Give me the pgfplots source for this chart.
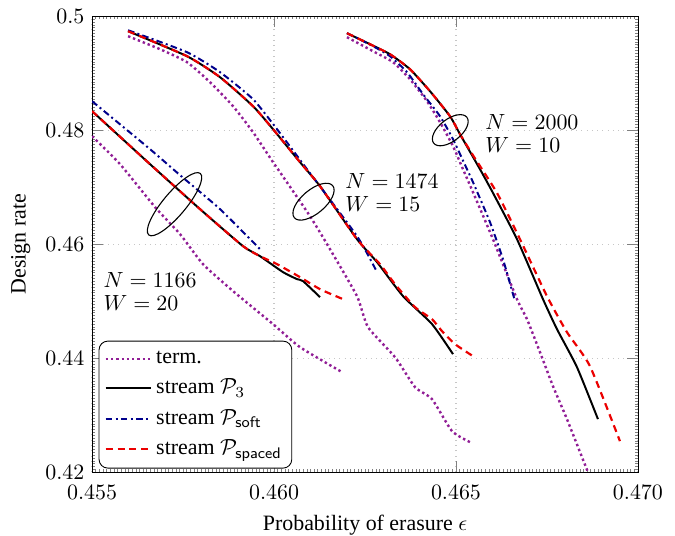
\documentclass[border=0pt]{standalone}
\usepackage{fontspec}
\setmainfont{Liberation Serif}
\usepackage{pgfplots}
\pgfplotsset{compat=1.18}
\definecolor{termc}{RGB}{145,30,150}
\definecolor{softc}{RGB}{0,0,140}
\definecolor{spacedc}{RGB}{235,0,0}
\tikzset{termstyle/.style={termc, line width=1.1pt, dash pattern=on 1.1pt off 1.3pt},
  p3style/.style={black, line width=0.9pt},
  softstyle/.style={softc, line width=0.9pt, dash pattern=on 3pt off 1.5pt on 0.9pt off 1.5pt},
  spacedstyle/.style={spacedc, line width=1pt, dash pattern=on 3.2pt off 2.2pt}}
\begin{document}
\begin{tikzpicture}
\begin{axis}[
  scale only axis, width=249pt, height=208pt,
  xmin=0.455, xmax=0.470, ymin=0.42, ymax=0.5,
  xtick={0.455,0.46,0.465,0.47}, ytick={0.42,0.44,0.46,0.48,0.5},
  scaled ticks=false,
  xticklabel style={/pgf/number format/.cd, fixed, fixed zerofill, precision=3},
  xticklabel shift=2.5pt,
  yticklabel style={/pgf/number format/.cd, fixed, precision=2},
  minor x tick num=49, minor y tick num=39,
  minor tick length=1.3pt, major tick length=5pt,
  grid=major, grid style={dotted, gray!45, line width=0.6pt},
  xlabel={Probability of erasure $\epsilon$}, ylabel={Design rate},
  legend style={at={(0.012,0.008)}, anchor=south west, rounded corners=4pt, cells={anchor=west}, inner sep=2.5pt, row sep=1.6pt},
  legend image code/.code={\draw[#1] (0cm,0cm) -- (0.72cm,0cm);},
  every axis plot/.append style={smooth, tension=0.35},
]
% group N=1166
\addplot[termstyle] coordinates {(0.455,0.47895) (0.455769,0.47404) (0.456731,0.46650) (0.457418,0.46176) (0.458049,0.45650) (0.458874,0.45177) (0.459972,0.44598) (0.460714,0.44194) (0.461868,0.43756)};
\addlegendentry{term.}
\addplot[p3style] coordinates {(0.455,0.48334) (0.456593,0.47404) (0.457967,0.46615) (0.459148,0.45966) (0.459615,0.45790) (0.460247,0.45510) (0.460632,0.45387) (0.460797,0.45352) (0.461264,0.45071)};
\addlegendentry{stream $\mathcal{P}_3$}
\addplot[softstyle] coordinates {(0.455,0.48509) (0.456593,0.47667) (0.457418,0.47211) (0.458516,0.46615) (0.459615,0.45913)};
\addlegendentry{stream $\mathcal{P}_{\mathsf{soft}}$}
\addplot[spacedstyle] coordinates {(0.455,0.48334) (0.456593,0.47404) (0.457967,0.46615) (0.459148,0.45966) (0.459615,0.45790) (0.460082,0.45650) (0.460714,0.45422) (0.461264,0.45211) (0.461896,0.45036)};
\addlegendentry{stream $\mathcal{P}_{\mathsf{spaced}}$}
% group N=1474
\addplot[termstyle, forget plot] coordinates {(0.455989,0.49649) (0.456868,0.49421) (0.457610,0.49193) (0.458242,0.48842) (0.458874,0.48421) (0.459423,0.47965) (0.459972,0.47439) (0.460165,0.47263) (0.460989,0.46491) (0.461538,0.45913) (0.462280,0.45088) (0.462582,0.44545) (0.463324,0.44019) (0.463874,0.43493) (0.464341,0.43282) (0.464890,0.42721) (0.465385,0.42528)};
\addplot[p3style, forget plot] coordinates {(0.455989,0.49737) (0.457610,0.49298) (0.458516,0.48930) (0.459423,0.48421) (0.459972,0.48018) (0.460714,0.47439) (0.461264,0.47018) (0.462280,0.46088) (0.462830,0.45685) (0.463544,0.45089) (0.464341,0.44598) (0.464918,0.44071)};
\addplot[softstyle, forget plot] coordinates {(0.455989,0.49754) (0.457610,0.49368) (0.458516,0.49018) (0.459423,0.48544) (0.460082,0.48018) (0.460906,0.47316) (0.462280,0.46141) (0.462830,0.45510)};
\addplot[spacedstyle, forget plot] coordinates {(0.455989,0.49737) (0.457610,0.49298) (0.458516,0.48930) (0.459423,0.48421) (0.459972,0.48018) (0.460714,0.47439) (0.461264,0.47018) (0.462280,0.46088) (0.462912,0.45650) (0.463324,0.45299) (0.463874,0.44896) (0.464341,0.44685) (0.464615,0.44475) (0.464973,0.44247) (0.465467,0.44036)};
% group N=2000
\addplot[termstyle, forget plot] coordinates {(0.462005,0.49632) (0.462720,0.49386) (0.463269,0.49193) (0.463736,0.48895) (0.464203,0.48509) (0.464560,0.48141) (0.464918,0.47720) (0.465192,0.47316) (0.465467,0.46913) (0.466016,0.46088) (0.466676,0.45036) (0.466951,0.44685) (0.467308,0.44106) (0.467665,0.43510) (0.468049,0.42931) (0.468626,0.42000)};
\addplot[p3style, forget plot] coordinates {(0.462005,0.49702) (0.462637,0.49509) (0.463187,0.49333) (0.463736,0.49070) (0.464286,0.48684) (0.464835,0.48246) (0.465110,0.47930) (0.465659,0.47316) (0.466016,0.46900) (0.466676,0.46088) (0.467390,0.45036) (0.467775,0.44510) (0.468324,0.43843) (0.468901,0.42931)};
\addplot[softstyle, forget plot] coordinates {(0.462005,0.49702) (0.462720,0.49474) (0.463187,0.49298) (0.463654,0.49018) (0.464094,0.48632) (0.464560,0.48246) (0.464918,0.47842) (0.465302,0.47316) (0.465467,0.47088) (0.465934,0.46387) (0.466291,0.45737) (0.466621,0.45001)};
\addplot[spacedstyle, forget plot] coordinates {(0.462005,0.49702) (0.462637,0.49509) (0.463187,0.49333) (0.463736,0.49070) (0.464286,0.48684) (0.464835,0.48246) (0.465110,0.47930) (0.465467,0.47560) (0.466126,0.46900) (0.466758,0.46088) (0.467500,0.45088) (0.468049,0.44457) (0.468681,0.43861) (0.469505,0.42545)};
% annotations
\draw[line width=0.5pt] (axis cs:0.457266,0.46702) ellipse [x radius=18.3pt, y radius=5.2pt, rotate=50];
\draw[line width=0.5pt] (axis cs:0.461085,0.46746) ellipse [x radius=11.4pt, y radius=5.4pt, rotate=40];
\draw[line width=0.5pt] (axis cs:0.464843,0.48000) ellipse [x radius=9.6pt, y radius=5pt, rotate=38];
\node[align=left, anchor=west, inner sep=0pt] at (axis cs:0.455302,0.45177) {$N=1166$\\[-1.5pt]$W=20$};
\node[align=left, anchor=west, inner sep=0pt] at (axis cs:0.461950,0.46913) {$N=1474$\\[-1.5pt]$W=15$};
\node[align=left, anchor=west, inner sep=0pt] at (axis cs:0.465796,0.47948) {$N=2000$\\[-1.5pt]$W=10$};
\end{axis}
\pgfresetboundingbox
\path[use as bounding box] ([xshift=-42pt,yshift=-28.8pt]current axis.south west) rectangle ([xshift=16.9pt,yshift=7.4pt]current axis.north east);
\end{tikzpicture}
\end{document}
